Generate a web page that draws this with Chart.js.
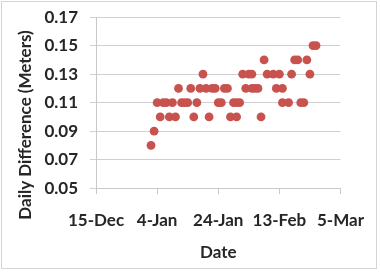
<!DOCTYPE html>
<html>
<head>
<meta charset="utf-8">
<script src="https://cdn.jsdelivr.net/npm/chart.js@4"></script>
<style>
    body { margin: 0; background: #fff; }
    #wrap { position: relative; width: 380px; height: 272px; }
    #frame { position: absolute; left: 1px; top: 1px; width: 376px; height: 268px; border: 1px solid #d4d4d4; box-sizing: border-box; pointer-events: none; }
</style>
</head>
<body>
<div id="wrap">
    <canvas id="diffChart"></canvas>
    <div id="frame"></div>
</div>
<script>
    // one value per dot
    const dates = [
        '2013-01-02', '2013-01-03', '2013-01-04', '2013-01-05', '2013-01-06', '2013-01-07',
        '2013-01-08', '2013-01-09', '2013-01-10', '2013-01-11', '2013-01-12', '2013-01-13',
        '2013-01-14', '2013-01-15', '2013-01-16', '2013-01-17', '2013-01-18', '2013-01-19',
        '2013-01-20', '2013-01-21', '2013-01-22', '2013-01-23', '2013-01-24', '2013-01-25',
        '2013-01-26', '2013-01-27', '2013-01-28', '2013-01-29', '2013-01-30', '2013-01-30',
        '2013-01-31', '2013-02-01', '2013-02-02', '2013-02-03', '2013-02-04', '2013-02-04',
        '2013-02-05', '2013-02-06', '2013-02-07', '2013-02-08', '2013-02-09', '2013-02-11',
        '2013-02-12', '2013-02-13', '2013-02-14', '2013-02-14', '2013-02-16', '2013-02-17',
        '2013-02-18', '2013-02-19', '2013-02-20', '2013-02-21', '2013-02-22', '2013-02-23',
        '2013-02-24', '2013-02-25'
    ];
    const diffs = [
        0.08, 0.09, 0.11, 0.10, 0.11, 0.11,
        0.10, 0.11, 0.10, 0.12, 0.11, 0.11,
        0.11, 0.12, 0.10, 0.11, 0.12, 0.13,
        0.12, 0.10, 0.12, 0.12, 0.11, 0.11,
        0.12, 0.12, 0.10, 0.11, 0.10, 0.11,
        0.11, 0.13, 0.12, 0.13, 0.12, 0.13,
        0.12, 0.12, 0.10, 0.14, 0.13, 0.13,
        0.12, 0.13, 0.11, 0.12, 0.11, 0.13,
        0.14, 0.14, 0.11, 0.11, 0.14, 0.13,
        0.15, 0.15
    ];
    const startDate = '2012-12-15';
    const xTickLabels = ['15-Dec', '4-Jan', '24-Jan', '13-Feb', '5-Mar'];
    const yTitle = 'Daily Difference (Meters)';

    const DAY = 86400000;
    const start = Date.parse(startDate);
    const points = dates.map((d, i) => ({ x: (Date.parse(d) - start) / DAY, y: diffs[i] }));

    const textColor = '#262626';
    const tickFont = { family: 'Lato', size: 17, weight: 'bold' };

    // y title is longer than the plot, so it is drawn by hand like Excel shifts it
    const yTitlePlugin = {
        id: 'yTitle',
        afterDraw(chart) {
            const ctx = chart.ctx;
            ctx.save();
            ctx.translate(26, 125);
            ctx.rotate(-Math.PI / 2);
            ctx.font = 'bold 17px Lato';
            ctx.fillStyle = textColor;
            ctx.textAlign = 'center';
            ctx.textBaseline = 'middle';
            ctx.fillText(yTitle, 0, 0);
            ctx.restore();
        }
    };

    new Chart(document.getElementById('diffChart'), {
        type: 'scatter',
        data: {
            datasets: [{
                data: points,
                backgroundColor: '#C8524E',
                borderWidth: 0,
                pointRadius: 4.4,
                pointHoverRadius: 4.4
            }]
        },
        options: {
            responsive: true,
            maintainAspectRatio: false,
            animation: false,
            layout: { padding: { left: 32.4, right: 33.5, top: 12, bottom: 1 } },
            plugins: { legend: { display: false }, tooltip: { enabled: false } },
            scales: {
                x: {
                    type: 'linear',
                    min: 0,
                    max: 80,
                    ticks: {
                        stepSize: 20,
                        color: textColor,
                        font: tickFont,
                        padding: 16,
                        maxRotation: 0,
                        callback: (v, i) => xTickLabels[i]
                    },
                    grid: { drawOnChartArea: false, drawTicks: true, tickLength: 6, color: '#c8c8c8' },
                    border: { color: '#c8c8c8' },
                    title: { display: true, text: 'Date', color: textColor, font: tickFont, padding: { top: -4, bottom: 8 } }
                },
                y: {
                    min: 0.05,
                    max: 0.17,
                    ticks: {
                        stepSize: 0.02,
                        color: textColor,
                        font: { family: 'Lato', size: 17, weight: 'bold', lineHeight: 0.6 },
                        padding: 12,
                        callback: v => v.toFixed(2)
                    },
                    grid: { color: '#d0d0d0', tickLength: 6 },
                    border: { color: '#c8c8c8' }
                }
            }
        },
        plugins: [yTitlePlugin]
    });
</script>
</body>
</html>
